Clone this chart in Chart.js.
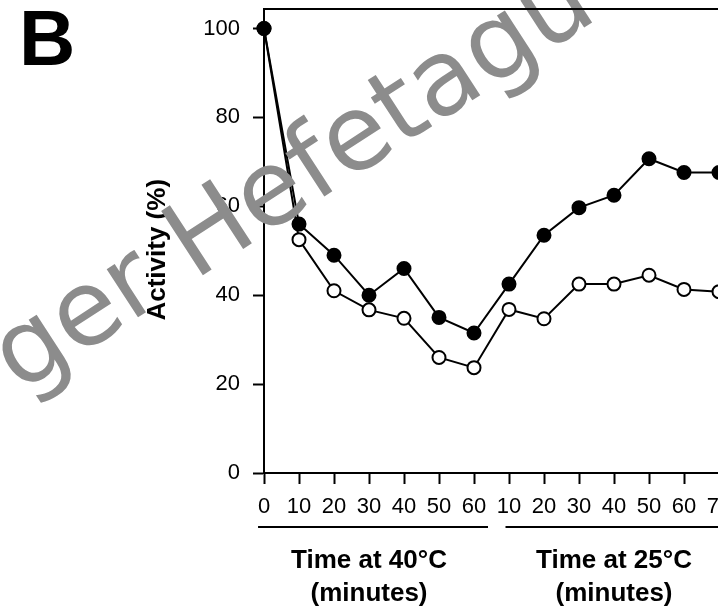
<!DOCTYPE html>
<html>
<head>
<meta charset="utf-8">
<script src="https://cdn.jsdelivr.net/npm/chart.js@4.4.1/dist/chart.umd.min.js"></script>
<style>
  html, body { margin: 0; padding: 0; background: #fff; overflow: hidden; }
  #wrap { position: absolute; left: 0; top: 0; width: 800px; height: 608px; }
</style>
</head>
<body>
<div id="wrap"><canvas id="c" width="800" height="608"></canvas></div>
<script>
// ---- data ----
const xIndex = [0, 1, 2, 3, 4, 5, 6, 7, 8, 9, 10, 11, 12, 13];
const tickLabels = ['0', '10', '20', '30', '40', '50', '60', '10', '20', '30', '40', '50', '60', '70'];
const filledValues = [100, 56, 49, 40, 46, 35, 31.5, 42.5, 53.5, 59.7, 62.5, 70.7, 67.6, 67.6];
const openValues = [100, 52.5, 41, 36.7, 34.8, 26, 23.7, 36.8, 34.7, 42.5, 42.5, 44.5, 41.3, 40.8];
const yTicks = [0, 20, 40, 60, 80, 100];
const groupTitles = [['Time at 40°C', '(minutes)'], ['Time at 25°C', '(minutes)']];
const yTitle = 'Activity (%)';
const panelLetter = 'B';
const watermark = 'ger Hefetagu';

const FONT = '"Liberation Sans", Arial, Helvetica, sans-serif';

const toPoints = vals => vals.map((v, i) => ({ x: xIndex[i], y: v }));

const decorPlugin = {
  id: 'decor',
  afterDraw(chart) {
    const ctx = chart.ctx;
    const xs = chart.scales.x;
    const area = chart.chartArea;
    ctx.save();
    // panel letter
    ctx.fillStyle = '#000';
    ctx.font = 'bold 78px ' + FONT;
    ctx.textAlign = 'left';
    ctx.textBaseline = 'alphabetic';
    ctx.fillText(panelLetter, 19, 65);

    // y title
    ctx.save();
    ctx.translate(158, (area.top + area.bottom) / 2 + 9);
    ctx.rotate(-Math.PI / 2);
    ctx.font = 'bold 26px ' + FONT;
    ctx.textAlign = 'center';
    ctx.textBaseline = 'middle';
    ctx.fillText(yTitle, 0, 0);
    ctx.restore();

    // group underlines
    const lineY = area.bottom + 54;
    ctx.strokeStyle = '#000';
    ctx.lineWidth = 2;
    ctx.beginPath();
    ctx.moveTo(xs.getPixelForValue(-0.17), lineY);
    ctx.lineTo(xs.getPixelForValue(6.4), lineY);
    ctx.moveTo(xs.getPixelForValue(6.9), lineY);
    ctx.lineTo(xs.getPixelForValue(14), lineY);
    ctx.stroke();

    // group titles
    ctx.font = 'bold 26px ' + FONT;
    ctx.textAlign = 'center';
    ctx.textBaseline = 'alphabetic';
    const centers = [xs.getPixelForValue(3), xs.getPixelForValue(10)];
    groupTitles.forEach((t, i) => {
      ctx.fillText(t[0], centers[i], area.bottom + 95);
      ctx.fillText(t[1], centers[i], area.bottom + 128);
    });

    // watermark
    ctx.save();
    ctx.translate(20, 394);
    ctx.rotate(-33 * Math.PI / 180);
    ctx.font = '105px "DejaVu Sans", sans-serif';
    ctx.fillStyle = '#8c8c8c';
    ctx.textAlign = 'left';
    ctx.textBaseline = 'alphabetic';
    ctx.fillText(watermark, 0, 0);
    ctx.restore();
    ctx.restore();

    // top frame line stays above the watermark
    chart.scales.x2.drawBorder();
  }
};

new Chart(document.getElementById('c'), {
  type: 'line',
  data: {
    datasets: [
      {
        label: 'filled',
        data: toPoints(filledValues),
        borderColor: '#000',
        borderWidth: 2,
        backgroundColor: '#000',
        pointBackgroundColor: '#000',
        pointBorderColor: '#000',
        pointBorderWidth: 2,
        pointRadius: 6.5,
        tension: 0,
        clip: false
      },
      {
        label: 'open',
        data: toPoints(openValues),
        borderColor: '#000',
        borderWidth: 2,
        backgroundColor: '#fff',
        pointBackgroundColor: '#fff',
        pointBorderColor: '#000',
        pointBorderWidth: 2,
        pointRadius: 6.5,
        tension: 0,
        clip: false
      }
    ]
  },
  options: {
    responsive: false,
    animation: false,
    events: [],
    layout: { padding: { left: 0, top: 6, right: 46, bottom: 0 } },
    plugins: { legend: { display: false }, tooltip: { enabled: false } },
    scales: {
      x: {
        type: 'linear',
        position: 'bottom',
        min: 0,
        max: 14,
        afterBuildTicks: s => { s.ticks = xIndex.map(v => ({ value: v })); },
        afterFit: s => { s.height = 135; s.paddingLeft = 0; s.paddingRight = 0; },
        ticks: {
          autoSkip: false,
          maxRotation: 0,
          color: '#000',
          font: { family: FONT, size: 22 },
          padding: 10,
          callback: v => tickLabels[v]
        },
        grid: { drawOnChartArea: false, drawTicks: true, tickLength: 11, tickWidth: 2, tickColor: '#000' },
        border: { display: true, color: '#000', width: 2 }
      },
      x2: {
        type: 'linear',
        position: 'top',
        min: 0,
        max: 14,
        afterFit: s => { s.height = 0; s.paddingLeft = 0; s.paddingRight = 0; },
        ticks: { display: false },
        grid: { drawOnChartArea: false, drawTicks: false },
        border: { display: true, color: '#000', width: 2 }
      },
      y: {
        min: 0,
        max: 104.5,
        afterBuildTicks: s => { s.ticks = yTicks.map(v => ({ value: v })); },
        afterFit: s => { s.width = 264; s.paddingTop = 0; s.paddingBottom = 0; },
        ticks: {
          color: '#000',
          font: { family: FONT, size: 22 },
          padding: 13
        },
        grid: { drawOnChartArea: false, drawTicks: true, tickLength: 11, tickWidth: 2, tickColor: '#000' },
        border: { display: true, color: '#000', width: 2 }
      }
    }
  },
  plugins: [decorPlugin]
});
</script>
</body>
</html>
